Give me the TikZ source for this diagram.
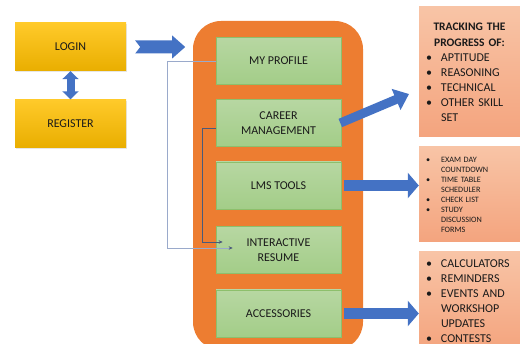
\documentclass[tikz,border=0pt]{standalone}
\usepackage{fontspec}
\setmainfont{Carlito}
\usetikzlibrary{arrows.meta,calc,shadows}

\definecolor{arrowblue}{HTML}{4472C4}
\definecolor{panelorange}{HTML}{ED7D31}
\definecolor{loginTop}{HTML}{FFCA2A}
\definecolor{loginBottom}{HTML}{E9AE00}
\definecolor{greenTop}{HTML}{B7D7A2}
\definecolor{greenBottom}{HTML}{A3CD88}
\definecolor{greenedge}{HTML}{8DBF6C}
\definecolor{noteTop}{HTML}{F8C4A6}
\definecolor{noteBottom}{HTML}{F4A47E}
\definecolor{textgrey}{HTML}{1A1A1A}
\definecolor{linkpale}{HTML}{9AAACB}
\definecolor{linkdark}{HTML}{4A5A7A}

\newcommand{\bulletline}[1]{\makebox[15pt][l]{\textbullet}#1}

\begin{document}
\begin{tikzpicture}[x=1pt, y=-1pt,
  font=\fontsize{12}{15}\selectfont,
  goldbox/.style = {shape=rectangle, minimum width=111pt, minimum height=48pt,
    top color=loginTop, bottom color=loginBottom, text=textgrey,
    drop shadow={opacity=0.2, shadow xshift=1pt, shadow yshift=-1.5pt}},
  panel/.style = {shape=rectangle, rounded corners=28pt, fill=panelorange,
    minimum width=170pt, minimum height=329pt},
  greenbox/.style = {shape=rectangle, draw=greenedge, line width=0.6pt,
    minimum width=125pt, minimum height=47pt, align=center,
    top color=greenTop, bottom color=greenBottom, text=textgrey},
  notebox/.style = {shape=rectangle, minimum width=101pt, text width=87pt,
    inner sep=7pt, align=left, top color=noteTop, bottom color=noteBottom,
    text=textgrey},
  blockarrow/.style = {draw=arrowblue, line width=#1},
  link/.style = {line width=0.8pt,
    -{Stealth[length=4pt, width=3.5pt, color=linkdark]}}]

  \useasboundingbox (0,0) rectangle (520,344);

  % left side
  \node[goldbox] (login) at (70.5,47) {LOGIN};
  \node[goldbox] (register) at (70.5,123.5) {REGISTER};

  % the orange menu column
  \node[panel] (menu) at (278,185.5) {};
  \node[greenbox] (profile) at (278.5,61) {MY PROFILE};
  \node[greenbox] (career) at (278.5,123) {CAREER\\MANAGEMENT};
  \node[greenbox] (lms) at (278.5,185.5) {LMS TOOLS};
  \node[greenbox] (resume) at (278.5,250) {INTERACTIVE\\RESUME};
  \node[greenbox] (accessories) at (278.5,313.5) {ACCESSORIES};

  % notes on the right
  \node[notebox, minimum height=130pt] (track) at (469.5,72) {%
    {\centering\bfseries\fontsize{11.5}{16}\selectfont TRACKING THE\\PROGRESS OF:\par}
    \bulletline{APTITUDE}\\
    \bulletline{REASONING}\\
    \bulletline{TECHNICAL}\\
    \bulletline{OTHER SKILL}\\
    \hspace*{15pt}SET};
  \node[notebox, minimum height=95pt, font=\fontsize{8.2}{10}\selectfont]
    (tools) at (469.5,194.5) {%
    \bulletline{EXAM DAY}\\
    \hspace*{15pt}COUNTDOWN\\
    \bulletline{TIME TABLE}\\
    \hspace*{15pt}SCHEDULER\\
    \bulletline{CHECK LIST}\\
    \bulletline{STUDY}\\
    \hspace*{15pt}DISCUSSION\\
    \hspace*{15pt}FORMS};
  \node[notebox, minimum height=98pt] (extras) at (469.5,301) {%
    \bulletline{CALCULATORS}\\
    \bulletline{REMINDERS}\\
    \bulletline{EVENTS AND}\\
    \hspace*{15pt}WORKSHOP\\
    \hspace*{15pt}UPDATES\\
    \bulletline{CONTESTS}};

  % thin links into the resume box
  \draw[link, draw=linkpale] (profile.west) -- ++(-48,0)
    |- ([xshift=17pt,yshift=2pt]resume.west);
  \draw[link, draw=linkdark] ([yshift=-5pt]career.west) -- ++(-13,0)
    |- ([xshift=7pt,yshift=8pt]resume.west);

  % block arrows
  \coordinate (trackin) at (409,94);
  \fill[arrowblue, shift={(login.east)}]
    (9,-6.5) -- (46,-6.5) -- (46,-11.5) -- (59,0) -- (46,11.5)
    -- (46,6.5) -- (9,6.5) -- (14,0) -- cycle;
  \draw[blockarrow=8pt,
    {Triangle[width=16pt, length=8pt]}-{Triangle[width=16pt, length=8pt]}]
    (login.south) -- (register.north);
  \draw[blockarrow=9pt, -{Triangle[width=22pt, length=14pt]}]
    ([xshift=-1pt]career.east) -- (trackin);
  \draw[blockarrow=11pt, -{Triangle[width=25pt, length=11pt]}]
    ([xshift=3pt]lms.east) -- (lms.east -| tools.west);
  \draw[blockarrow=11pt, -{Triangle[width=25pt, length=11pt]}]
    ([xshift=3pt]accessories.east) -- (accessories.east -| extras.west);
\end{tikzpicture}
\end{document}
